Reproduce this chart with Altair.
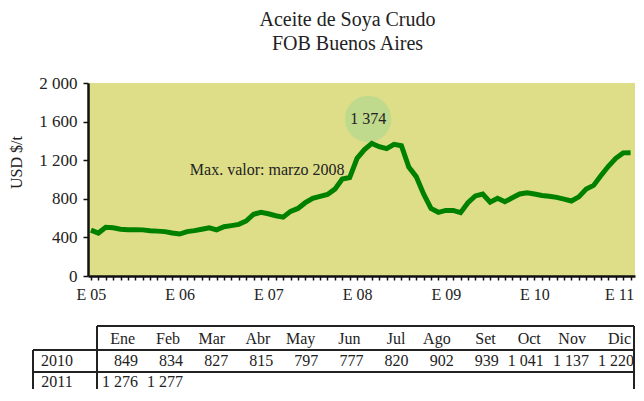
import altair as alt
import pandas as pd

FONT = "Liberation Serif"
INK = "#222222"

months = ["Ene", "Feb", "Mar", "Abr", "May", "Jun", "Jul", "Ago", "Set", "Oct", "Nov", "Dic"]
v2005 = [476, 445, 505, 500, 485, 480, 480, 478, 470, 465, 460, 445]
v2006 = [435, 460, 470, 485, 500, 478, 510, 522, 535, 570, 640, 660]
v2007 = [645, 625, 610, 670, 700, 760, 805, 825, 845, 900, 1005, 1020]
v2008 = [1220, 1310, 1374, 1340, 1320, 1365, 1350, 1130, 1030, 850, 700, 660]
v2009 = [680, 680, 656, 760, 830, 850, 765, 805, 770, 810, 850, 862]
v2010 = [849, 834, 827, 815, 797, 777, 820, 902, 939, 1041, 1137, 1220]
v2011 = [1276, 1277]
year_labels = ["2010", "2011"]
y_ticks = [0, 400, 800, 1200, 1600, 2000]

series = v2005 + v2006 + v2007 + v2008 + v2009 + v2010 + v2011
idx = list(range(len(series)))
df = pd.DataFrame({"i": idx, "v": series})

peak_val = max(series)
peak_txt = f"{peak_val:,}".replace(",", " ")
bubble = pd.DataFrame({"i": [37.5], "v": [1627], "t": [peak_txt]})
note = pd.DataFrame({"i": [34.3], "v": [1098], "t": ["Max. valor: marzo 2008"]})

xs = alt.Scale(domain=[-0.4, 73.6], nice=False, zero=False)
ys = alt.Scale(domain=[0, 2000], nice=False)

x_axis = alt.Axis(
    values=idx, title=None, grid=False,
    labelExpr="datum.value % 12 == 0 ? 'E ' + (datum.value < 60 ? '0' : '') + (5 + datum.value / 12) : ''",
    labelOverlap=False, labelBound=False, labelFlush=False,
    labelOffset={"condition": {"test": "datum.value == 72", "value": -4}, "value": 0},
    tickSize=4, tickWidth=1.5, tickColor="#111", labelPadding=6,
    domainColor="#111", domainWidth=2.5,
    labelFont=FONT, labelFontSize=16, labelColor=INK,
)
y_axis = alt.Axis(
    values=y_ticks, title="USD $/t", grid=False,
    labelExpr="replace(format(datum.value, ','), ',', ' ')",
    tickSize=5, tickWidth=1.5, tickColor="#111", labelPadding=6,
    domainColor="#111", domainWidth=2.5,
    labelFont=FONT, labelFontSize=17, labelColor=INK,
    titleFont=FONT, titleFontSize=16, titleFontWeight="normal", titleColor=INK,
    titleX=-72, titleY=79, titleAngle=270, titleAlign="center", titleBaseline="middle",
)

X = alt.X("i:Q", scale=xs, axis=x_axis)
Y = alt.Y("v:Q", scale=ys, axis=y_axis)

circle = alt.Chart(bubble).mark_circle(size=2150, color="#bfda8c", opacity=1).encode(x=X, y=Y)
line = alt.Chart(df).mark_line(color="#008000", strokeWidth=5).encode(x=X, y=Y)
bubble_txt = alt.Chart(bubble).mark_text(font=FONT, fontSize=16, color=INK).encode(x=X, y=Y, text="t:N")
note_txt = alt.Chart(note).mark_text(font=FONT, fontSize=16, color=INK, align="right").encode(
    x=X, y=Y, text="t:N")

main = alt.layer(circle, line, bubble_txt, note_txt)

# ---- table ----
rows = []
for m in months:
    rows.append({"fila": "hdr", "mes": m, "txt": m})
for m, v in zip(months, v2010):
    rows.append({"fila": "2010", "mes": m, "txt": f"{v:,}".replace(",", " ")})
for m, v in zip(months, v2011):
    rows.append({"fila": "2011", "mes": m, "txt": f"{v:,}".replace(",", " ")})
tdf = pd.DataFrame(rows)
ydf = pd.DataFrame({"fila": year_labels})

mx = alt.Scale(domain=months, type="point", range=[49, 545], padding=0)
ry = alt.Scale(domain=["hdr"] + year_labels, type="point", range=[256, 299], padding=0)

hdr = alt.Chart(tdf).transform_filter("datum.fila == 'hdr'").mark_text(
    font=FONT, fontSize=16, color=INK, align="right", dx=-2).encode(
    x=alt.X("mes:N", scale=mx, axis=None), y=alt.Y("fila:N", scale=ry, axis=None), text="txt:N")
vals = alt.Chart(tdf).transform_filter("datum.fila != 'hdr'").mark_text(
    font=FONT, fontSize=16, color=INK, align="right", dx=1).encode(
    x=alt.X("mes:N", scale=mx, axis=None), y=alt.Y("fila:N", scale=ry, axis=None), text="txt:N")
yrs = alt.Chart(ydf).mark_text(font=FONT, fontSize=16, color=INK, align="center").encode(
    x=alt.value(-31), y=alt.Y("fila:N", scale=ry, axis=None), text="fila:N")

one = pd.DataFrame({"a": [0]})
def rule(x1, x2, y1, y2):
    return alt.Chart(one).mark_rule(color="#222", strokeWidth=2).encode(
        x=alt.value(x1), x2=alt.value(x2), y=alt.value(y1), y2=alt.value(y2))

lines = [
    rule(9, 546, 243, 243),
    rule(-55, 546, 267, 267),
    rule(-55, 546, 289, 289),
    rule(9, 9, 243, 320),
    rule(-55, -55, 267, 320),
    rule(546, 546, 243, 320),
]
table = alt.layer(*lines, hdr, vals, yrs)

chart = alt.layer(main, table).resolve_scale(x="independent", y="independent").properties(
    width=547, height=193,
    title=alt.TitleParams(["Aceite de Soya Crudo", "FOB Buenos Aires"], font=FONT, fontSize=20,
                          fontWeight="normal", color=INK, anchor="middle", frame="group",
                          dx=-14, offset=20, lineHeight=24),
    autosize=alt.AutoSizeParams(type="none"),
    padding={"left": 80, "top": 75, "right": 1, "bottom": 113},
).configure_view(fill="#dede89", stroke=None)

chart.save("out.html", embed_options={"renderer": "svg", "actions": False})
